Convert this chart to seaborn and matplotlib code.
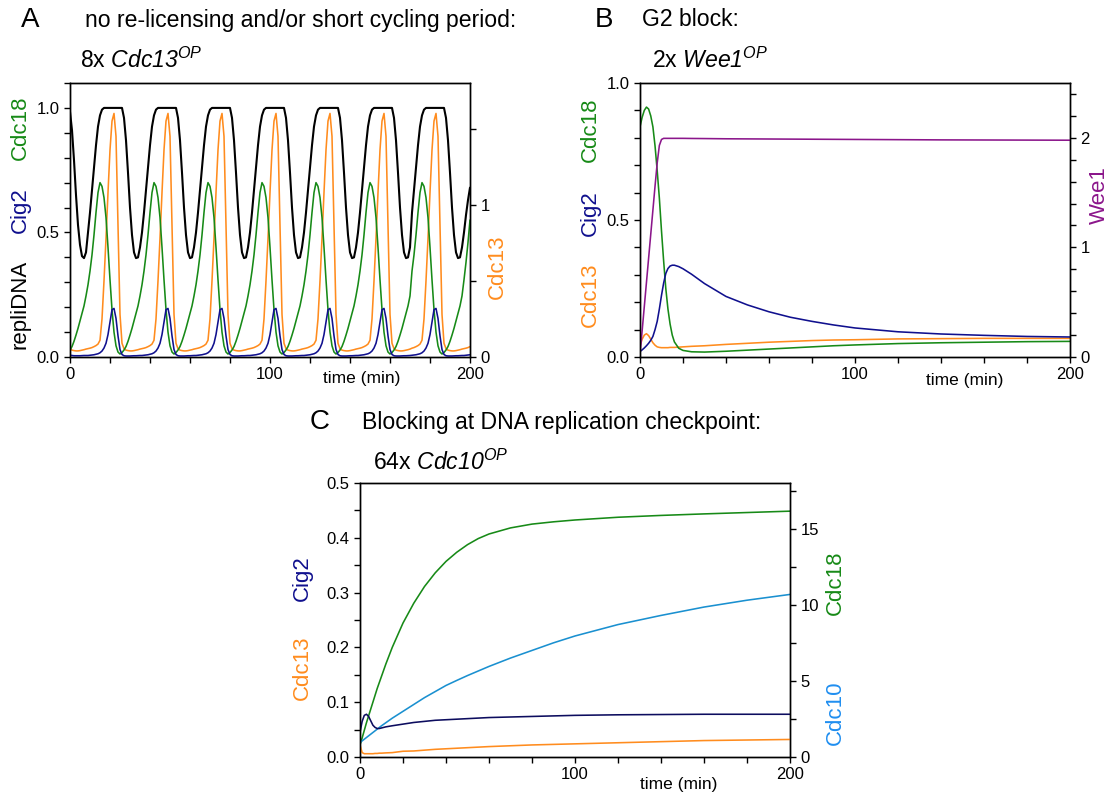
import numpy as np
import pandas as pd
import matplotlib
matplotlib.use("Agg")
import matplotlib.pyplot as plt
from matplotlib.ticker import MultipleLocator, FixedLocator
import seaborn as sns

sns.set_theme(style="ticks")
plt.rcParams["font.family"] = ["Liberation Sans", "DejaVu Sans"]
# math parts are only used for the italic gene names, so "rm" is the italic face
plt.rcParams["mathtext.fontset"] = "custom"
plt.rcParams["mathtext.rm"] = "Liberation Sans:italic"
plt.rcParams["mathtext.it"] = "Liberation Sans:italic"

W, H = 1110, 798

GREEN = "#178a17"
BLUE = "#10108e"
NAVY = "#0c0c5e"
ORANGE = "#ff8c1e"
PURPLE = "#8b168b"
CYAN = "#1a90d0"
CYAN_LABEL = "#1f8ef0"

# ---- panel A: 8x Cdc13OP, sampled every minute, t = 0..200 ----
tA = np.arange(0, 201)

repliDNA_A = (
    [0.985, 0.91, 0.79, 0.65, 0.53, 0.45, 0.405, 0.397, 0.42]
    + [0.50, 0.58, 0.67, 0.76, 0.85, 0.925, 0.97, 0.993, 1.0, 1.0, 1.0, 1.0, 1.0, 1.0, 1.0, 1.0, 1.0, 1.0, 0.96, 0.87, 0.74, 0.60, 0.49, 0.42, 0.397, 0.40, 0.44]
    + [0.50, 0.58, 0.67, 0.76, 0.85, 0.925, 0.97, 0.993, 1.0, 1.0, 1.0, 1.0, 1.0, 1.0, 1.0, 1.0, 1.0, 1.0, 0.96, 0.87, 0.74, 0.60, 0.49, 0.42, 0.397, 0.40, 0.44]
    + [0.50, 0.58, 0.67, 0.76, 0.85, 0.925, 0.97, 0.993, 1.0, 1.0, 1.0, 1.0, 1.0, 1.0, 1.0, 1.0, 1.0, 1.0, 0.96, 0.87, 0.74, 0.60, 0.49, 0.42, 0.397, 0.40, 0.44]
    + [0.50, 0.58, 0.67, 0.76, 0.85, 0.925, 0.97, 0.993, 1.0, 1.0, 1.0, 1.0, 1.0, 1.0, 1.0, 1.0, 1.0, 1.0, 0.96, 0.87, 0.74, 0.60, 0.49, 0.42, 0.397, 0.40, 0.44]
    + [0.50, 0.58, 0.67, 0.76, 0.85, 0.925, 0.97, 0.993, 1.0, 1.0, 1.0, 1.0, 1.0, 1.0, 1.0, 1.0, 1.0, 1.0, 0.96, 0.87, 0.74, 0.60, 0.49, 0.42, 0.397, 0.40, 0.44]
    + [0.50, 0.58, 0.67, 0.76, 0.85, 0.925, 0.97, 0.993, 1.0, 1.0, 1.0, 1.0, 1.0, 1.0, 1.0, 1.0, 1.0, 1.0, 0.96, 0.87, 0.74, 0.60, 0.49, 0.42, 0.397, 0.40, 0.44]
    + [0.58, 0.67, 0.76, 0.85, 0.925, 0.97, 0.993, 1.0, 1.0, 1.0, 1.0, 1.0, 1.0, 1.0, 1.0, 1.0, 1.0, 0.96, 0.87, 0.74, 0.60, 0.49, 0.42, 0.397, 0.40, 0.44]
    + [0.50, 0.57, 0.63, 0.68]
)

cdc18_A = (
    [0.028, 0.042, 0.063, 0.088, 0.115, 0.145, 0.175, 0.205, 0.245]
    + [0.29, 0.345, 0.41, 0.49, 0.58, 0.66, 0.70, 0.685, 0.64, 0.56, 0.44, 0.31, 0.19, 0.10, 0.045, 0.02, 0.012, 0.018, 0.028, 0.042, 0.063, 0.088, 0.115, 0.145, 0.175, 0.205, 0.245]
    + [0.29, 0.345, 0.41, 0.49, 0.58, 0.66, 0.70, 0.685, 0.64, 0.56, 0.44, 0.31, 0.19, 0.10, 0.045, 0.02, 0.012, 0.018, 0.028, 0.042, 0.063, 0.088, 0.115, 0.145, 0.175, 0.205, 0.245]
    + [0.29, 0.345, 0.41, 0.49, 0.58, 0.66, 0.70, 0.685, 0.64, 0.56, 0.44, 0.31, 0.19, 0.10, 0.045, 0.02, 0.012, 0.018, 0.028, 0.042, 0.063, 0.088, 0.115, 0.145, 0.175, 0.205, 0.245]
    + [0.29, 0.345, 0.41, 0.49, 0.58, 0.66, 0.70, 0.685, 0.64, 0.56, 0.44, 0.31, 0.19, 0.10, 0.045, 0.02, 0.012, 0.018, 0.028, 0.042, 0.063, 0.088, 0.115, 0.145, 0.175, 0.205, 0.245]
    + [0.29, 0.345, 0.41, 0.49, 0.58, 0.66, 0.70, 0.685, 0.64, 0.56, 0.44, 0.31, 0.19, 0.10, 0.045, 0.02, 0.012, 0.018, 0.028, 0.042, 0.063, 0.088, 0.115, 0.145, 0.175, 0.205, 0.245]
    + [0.29, 0.345, 0.41, 0.49, 0.58, 0.66, 0.70, 0.685, 0.64, 0.56, 0.44, 0.31, 0.19, 0.10, 0.045, 0.02, 0.012, 0.018, 0.028, 0.042, 0.063, 0.088, 0.115, 0.145, 0.175, 0.205, 0.245]
    + [0.345, 0.41, 0.49, 0.58, 0.66, 0.70, 0.685, 0.64, 0.56, 0.44, 0.31, 0.19, 0.10, 0.045, 0.02, 0.012, 0.018, 0.028, 0.042, 0.063, 0.088, 0.115, 0.145, 0.175, 0.205, 0.245]
    + [0.31, 0.38, 0.46, 0.55]
)

cig2_A = (
    [0.007, 0.006, 0.005, 0.005, 0.005, 0.005, 0.0055, 0.006, 0.006]
    + [0.006, 0.007, 0.008, 0.009, 0.011, 0.013, 0.017, 0.024, 0.036, 0.055, 0.09, 0.14, 0.19, 0.195, 0.155, 0.085, 0.03, 0.01, 0.005, 0.004, 0.004, 0.004, 0.0045, 0.005, 0.005, 0.0055, 0.006]
    + [0.006, 0.007, 0.008, 0.009, 0.011, 0.013, 0.017, 0.024, 0.036, 0.055, 0.09, 0.14, 0.19, 0.195, 0.155, 0.085, 0.03, 0.01, 0.005, 0.004, 0.004, 0.004, 0.0045, 0.005, 0.005, 0.0055, 0.006]
    + [0.006, 0.007, 0.008, 0.009, 0.011, 0.013, 0.017, 0.024, 0.036, 0.055, 0.09, 0.14, 0.19, 0.195, 0.155, 0.085, 0.03, 0.01, 0.005, 0.004, 0.004, 0.004, 0.0045, 0.005, 0.005, 0.0055, 0.006]
    + [0.006, 0.007, 0.008, 0.009, 0.011, 0.013, 0.017, 0.024, 0.036, 0.055, 0.09, 0.14, 0.19, 0.195, 0.155, 0.085, 0.03, 0.01, 0.005, 0.004, 0.004, 0.004, 0.0045, 0.005, 0.005, 0.0055, 0.006]
    + [0.006, 0.007, 0.008, 0.009, 0.011, 0.013, 0.017, 0.024, 0.036, 0.055, 0.09, 0.14, 0.19, 0.195, 0.155, 0.085, 0.03, 0.01, 0.005, 0.004, 0.004, 0.004, 0.0045, 0.005, 0.005, 0.0055, 0.006]
    + [0.006, 0.007, 0.008, 0.009, 0.011, 0.013, 0.017, 0.024, 0.036, 0.055, 0.09, 0.14, 0.19, 0.195, 0.155, 0.085, 0.03, 0.01, 0.005, 0.004, 0.004, 0.004, 0.0045, 0.005, 0.005, 0.0055, 0.006]
    + [0.007, 0.008, 0.009, 0.011, 0.013, 0.017, 0.024, 0.036, 0.055, 0.09, 0.14, 0.19, 0.195, 0.155, 0.085, 0.03, 0.01, 0.005, 0.004, 0.004, 0.004, 0.0045, 0.005, 0.005, 0.0055, 0.006]
    + [0.006, 0.007, 0.008, 0.009]
)

# Cdc13 is read on the right-hand axis
cdc13_A = (
    [0.055, 0.045, 0.042, 0.040, 0.040, 0.042, 0.045, 0.048, 0.052]
    + [0.055, 0.058, 0.062, 0.068, 0.075, 0.085, 0.11, 0.25, 0.50, 0.78, 1.08, 1.36, 1.55, 1.60, 1.45, 0.85, 0.28, 0.09, 0.055, 0.045, 0.042, 0.040, 0.040, 0.042, 0.045, 0.048, 0.052]
    + [0.055, 0.058, 0.062, 0.068, 0.075, 0.085, 0.11, 0.25, 0.50, 0.78, 1.08, 1.36, 1.55, 1.60, 1.45, 0.85, 0.28, 0.09, 0.055, 0.045, 0.042, 0.040, 0.040, 0.042, 0.045, 0.048, 0.052]
    + [0.055, 0.058, 0.062, 0.068, 0.075, 0.085, 0.11, 0.25, 0.50, 0.78, 1.08, 1.36, 1.55, 1.60, 1.45, 0.85, 0.28, 0.09, 0.055, 0.045, 0.042, 0.040, 0.040, 0.042, 0.045, 0.048, 0.052]
    + [0.055, 0.058, 0.062, 0.068, 0.075, 0.085, 0.11, 0.25, 0.50, 0.78, 1.08, 1.36, 1.55, 1.60, 1.45, 0.85, 0.28, 0.09, 0.055, 0.045, 0.042, 0.040, 0.040, 0.042, 0.045, 0.048, 0.052]
    + [0.055, 0.058, 0.062, 0.068, 0.075, 0.085, 0.11, 0.25, 0.50, 0.78, 1.08, 1.36, 1.55, 1.60, 1.45, 0.85, 0.28, 0.09, 0.055, 0.045, 0.042, 0.040, 0.040, 0.042, 0.045, 0.048, 0.052]
    + [0.055, 0.058, 0.062, 0.068, 0.075, 0.085, 0.11, 0.25, 0.50, 0.78, 1.08, 1.36, 1.55, 1.60, 1.45, 0.85, 0.28, 0.09, 0.055, 0.045, 0.042, 0.040, 0.040, 0.042, 0.045, 0.048, 0.052]
    + [0.058, 0.062, 0.068, 0.075, 0.085, 0.11, 0.25, 0.50, 0.78, 1.08, 1.36, 1.55, 1.60, 1.45, 0.85, 0.28, 0.09, 0.055, 0.045, 0.042, 0.040, 0.040, 0.042, 0.045, 0.048, 0.052]
    + [0.055, 0.058, 0.062, 0.068]
)

# ---- panel B: 2x Wee1OP ----
tB = [0, 1, 2, 3, 4, 5, 6, 7, 8, 9, 10, 11, 12, 13, 14, 15, 16, 18, 20, 24,
      30, 40, 50, 60, 70, 80, 90, 100, 120, 140, 160, 180, 200]
cdc18_B = [0.84, 0.875, 0.90, 0.912, 0.905, 0.88, 0.84, 0.77, 0.68, 0.58, 0.46, 0.35, 0.25, 0.175, 0.12, 0.08, 0.055, 0.032, 0.024, 0.019,
           0.018, 0.021, 0.025, 0.029, 0.033, 0.037, 0.041, 0.044, 0.049, 0.052, 0.054, 0.056, 0.057]
cig2_B = [0.02, 0.026, 0.033, 0.041, 0.05, 0.061, 0.075, 0.10, 0.13, 0.175, 0.225, 0.27, 0.305, 0.323, 0.332, 0.335, 0.335, 0.33, 0.322, 0.302,
          0.268, 0.221, 0.19, 0.165, 0.145, 0.13, 0.117, 0.106, 0.092, 0.084, 0.079, 0.075, 0.073]
cdc13_B = [0.04, 0.065, 0.08, 0.085, 0.078, 0.065, 0.052, 0.043, 0.037, 0.035, 0.034, 0.034, 0.034, 0.034, 0.035, 0.035, 0.035, 0.036, 0.037, 0.039,
           0.041, 0.046, 0.050, 0.054, 0.057, 0.060, 0.062, 0.063, 0.066, 0.067, 0.068, 0.068, 0.068]
wee1_B = [0.03, 0.24, 0.46, 0.68, 0.90, 1.12, 1.34, 1.56, 1.77, 1.93, 1.985, 1.995, 1.995, 1.995, 1.995, 1.995, 1.995, 1.995, 1.995, 1.994,
          1.993, 1.991, 1.99, 1.989, 1.988, 1.987, 1.986, 1.985, 1.983, 1.981, 1.98, 1.979, 1.978]

# ---- panel C: 64x Cdc10OP ----
tC = [0, 1, 2, 3, 4, 5, 6, 7, 8, 9, 10, 12, 15, 20, 25, 30, 35, 40, 45, 50,
      55, 60, 70, 80, 90, 100, 120, 140, 160, 180, 200]
cig2_C = [0.045, 0.065, 0.076, 0.078, 0.074, 0.066, 0.058, 0.054, 0.052, 0.052, 0.053, 0.055, 0.057, 0.060, 0.063, 0.065, 0.067, 0.068, 0.069, 0.070,
          0.071, 0.072, 0.073, 0.074, 0.075, 0.076, 0.077, 0.0775, 0.078, 0.078, 0.078]
cdc13_C = [0.022, 0.008, 0.006, 0.006, 0.006, 0.006, 0.006, 0.0065, 0.0065, 0.007, 0.007, 0.0075, 0.008, 0.0105, 0.011, 0.0125, 0.014, 0.015, 0.016, 0.017,
           0.018, 0.019, 0.0205, 0.022, 0.023, 0.024, 0.026, 0.028, 0.030, 0.031, 0.032]
cdc18_C = [0.8, 1.25, 1.75, 2.25, 2.7, 3.15, 3.6, 4.05, 4.5, 4.9, 5.3, 6.1, 7.2, 8.8, 10.1, 11.2, 12.1, 12.85, 13.45, 13.95,
           14.35, 14.65, 15.05, 15.3, 15.45, 15.57, 15.75, 15.87, 15.97, 16.06, 16.15]
cdc10_C = [0.95, 1.06, 1.17, 1.28, 1.39, 1.5, 1.61, 1.72, 1.83, 1.94, 2.05, 2.25, 2.55, 3.0, 3.45, 3.9, 4.3, 4.7, 5.03, 5.35,
           5.65, 5.95, 6.5, 7.0, 7.5, 7.95, 8.7, 9.3, 9.85, 10.3, 10.68]


def frac(x, y):
    return x / W, 1 - y / H


def axes_px(fig, left, top, right, bottom):
    return fig.add_axes([left / W, 1 - bottom / H, (right - left) / W, (bottom - top) / H])


def line(ax, x, y, color, lw=1.15):
    df = pd.DataFrame({"t": x, "v": y})
    sns.lineplot(data=df, x="t", y="v", ax=ax, color=color, lw=lw,
                 estimator=None, sort=False, legend=False)


def style_time_axis(ax):
    ax.set_xlim(0, 200)
    ax.xaxis.set_major_locator(FixedLocator([0, 100, 200]))
    ax.xaxis.set_minor_locator(MultipleLocator(20))
    ax.set_xlabel("")
    ax.set_ylabel("")
    for s in ax.spines.values():
        s.set_linewidth(1.0)
        s.set_color("black")
        s.set_visible(True)
    ax.tick_params(which="both", direction="out", length=4, width=1.0, labelsize=12, colors="black")
    ax.tick_params(axis="x", pad=3)


def style_twin(tw):
    tw.set_ylabel("")
    tw.tick_params(which="both", direction="out", length=4, width=1.0, labelsize=12, colors="black")
    for s in tw.spines.values():
        s.set_linewidth(1.0)
        s.set_color("black")


fig = plt.figure(figsize=(W / 100, H / 100), dpi=100)

# ---------- A ----------
axA = axes_px(fig, 70, 83, 470, 357)
axA2 = axA.twinx()
line(axA, tA, cdc18_A, GREEN)
line(axA, tA, cig2_A, BLUE)
line(axA2, tA, cdc13_A, ORANGE)
line(axA, tA, repliDNA_A, "black", lw=1.5)
axA.set_ylim(0, 1.1)
axA.yaxis.set_major_locator(FixedLocator([0, 0.5, 1.0]))
axA.yaxis.set_minor_locator(MultipleLocator(0.1))
axA.set_yticklabels(["0.0", "0.5", "1.0"])
axA2.set_ylim(0, 1.8)
axA2.yaxis.set_major_locator(FixedLocator([0, 1]))
axA2.yaxis.set_minor_locator(FixedLocator([0.5, 1.5]))
axA2.set_yticklabels(["0", "1"])
style_time_axis(axA)
style_twin(axA2)
axA2.set_zorder(axA.get_zorder() - 1)
axA.patch.set_visible(False)

# ---------- B ----------
axB = axes_px(fig, 640, 83, 1070, 357)
axB2 = axB.twinx()
line(axB, tB, cdc13_B, ORANGE)
line(axB, tB, cdc18_B, GREEN)
line(axB, tB, cig2_B, BLUE)
line(axB2, tB, wee1_B, PURPLE)
axB.set_ylim(0, 1.0)
axB.yaxis.set_major_locator(FixedLocator([0, 0.5, 1.0]))
axB.yaxis.set_minor_locator(MultipleLocator(0.1))
axB.set_yticklabels(["0.0", "0.5", "1.0"])
axB2.set_ylim(0, 2.5)
axB2.yaxis.set_major_locator(FixedLocator([0, 1, 2]))
axB2.yaxis.set_minor_locator(MultipleLocator(0.2))
axB2.set_yticklabels(["0", "1", "2"])
style_time_axis(axB)
style_twin(axB2)

# ---------- C ----------
axC = axes_px(fig, 360, 483, 790, 757)
axC2 = axC.twinx()
line(axC2, tC, cdc18_C, GREEN)
line(axC2, tC, cdc10_C, CYAN)
line(axC, tC, cdc13_C, ORANGE)
line(axC, tC, cig2_C, NAVY)
axC.set_ylim(0, 0.5)
axC.set_yticks([0, 0.1, 0.2, 0.3, 0.4, 0.5])
axC.set_yticklabels(["0.0", "0.1", "0.2", "0.3", "0.4", "0.5"])
axC.yaxis.set_minor_locator(MultipleLocator(0.05))
axC2.set_ylim(0, 18)
axC2.yaxis.set_major_locator(FixedLocator([0, 5, 10, 15]))
axC2.yaxis.set_minor_locator(MultipleLocator(2.5))
axC2.set_yticklabels(["0", "5", "10", "15"])
style_time_axis(axC)
style_twin(axC2)
axC.set_zorder(axC2.get_zorder() + 1)
axC.patch.set_visible(False)

# ---------- texts ----------
def txt(x, y, s, size, color="black", rot=0, ha="left", va="center", **kw):
    fig.text(*frac(x, y), s, fontsize=size, color=color, rotation=rot, ha=ha, va=va, **kw)

TITLE = 16.6
txt(30, 20, "A", 20, ha="center")
txt(85, 20, "no re-licensing and/or short cycling period:", TITLE)
txt(80, 60, r"8x $\mathrm{Cdc13}^{\mathrm{OP}}$", TITLE)
txt(604, 20, "B", 20, ha="center")
txt(642, 20, "G2 block:", TITLE)
txt(652, 60, r"2x $\mathrm{Wee1}^{\mathrm{OP}}$", TITLE)
txt(320, 422, "C", 20, ha="center")
txt(362, 423, "Blocking at DNA replication checkpoint:", TITLE)
txt(373, 462, r"64x $\mathrm{Cdc10}^{\mathrm{OP}}$", TITLE)

txt(362, 379, "time (min)", 12.5, ha="center")
txt(965, 380, "time (min)", 12.5, ha="center")
txt(679, 785, "time (min)", 12.5, ha="center")

SIDE = 16
txt(20, 128, "Cdc18", SIDE, GREEN, 90, ha="center")
txt(20, 210, "Cig2", SIDE, BLUE, 90, ha="center")
txt(20, 304, "repliDNA", SIDE, "black", 90, ha="center")
txt(497, 267, "Cdc13", SIDE, ORANGE, 90, ha="center")

txt(590, 130, "Cdc18", SIDE, GREEN, 90, ha="center")
txt(590, 213, "Cig2", SIDE, BLUE, 90, ha="center")
txt(590, 295, "Cdc13", SIDE, ORANGE, 90, ha="center")
txt(1099, 195, "Wee1", SIDE, PURPLE, 90, ha="center")

txt(302, 578, "Cig2", SIDE, BLUE, 90, ha="center")
txt(302, 668, "Cdc13", SIDE, ORANGE, 90, ha="center")
txt(835, 583, "Cdc18", SIDE, GREEN, 90, ha="center")
txt(835, 713, "Cdc10", SIDE, CYAN_LABEL, 90, ha="center")

fig.savefig("out.png", dpi=100)
